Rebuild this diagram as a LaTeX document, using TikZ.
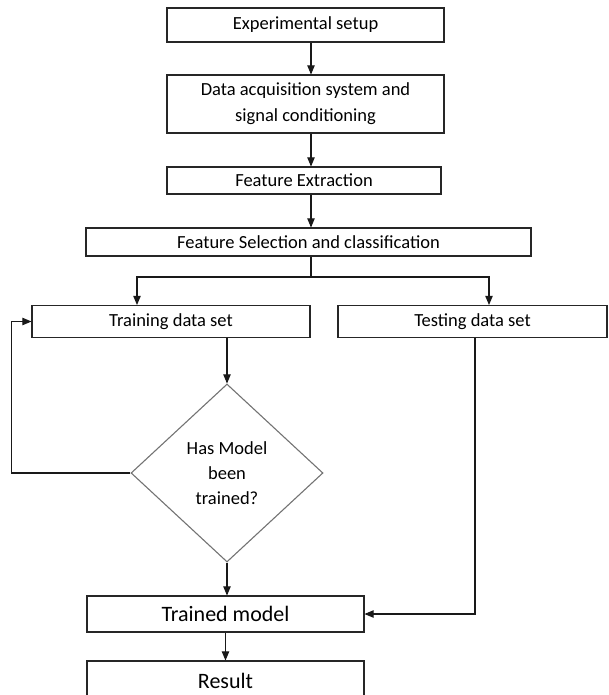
\documentclass[tikz,border=0pt]{standalone}
\usepackage{fontspec}
\setmainfont{Carlito}
\usepackage{tikz}
\usetikzlibrary{arrows}
\usetikzlibrary{shapes.geometric}

\begin{document}
\begin{tikzpicture}[x=1pt,y=-1pt,>=triangle 45,
	box/.style={rectangle,draw=black!85,line width=1.1pt,inner sep=0pt,align=center,font=\fontsize{18.5}{26}\selectfont},
	decision/.style={diamond,draw=black!55,line width=1.1pt,inner sep=0pt,align=center,minimum width=192pt,minimum height=178pt,font=\fontsize{18.5}{25}\selectfont},
	link/.style={draw=black!90,line width=1.1pt}]
\useasboundingbox (0,0) rectangle (608,695);

	% main column
	\node[box,minimum width=277pt,minimum height=34pt] (setup) at (305.5,25) {Experimental setup};
	\node[box,minimum width=277pt,minimum height=58pt] (daq) at (305.5,104) {Data acquisition system and\\signal conditioning};
	\node[box,minimum width=274pt,minimum height=27pt] (extract) at (304,180.5) {Feature Extraction};
	\node[box,minimum width=445pt,minimum height=28pt] (select) at (308.5,242) {Feature Selection and classification};
	
	% two branches
	\node[box,minimum width=278pt,minimum height=32pt] (train) at (171,321.5) {Training data set};
	\node[box,minimum width=269pt,minimum height=32pt] (test) at (472.5,321.5) {Testing data set};
	\node[decision] (check) at (227,473) {Has Model\\been\\trained?};
	
	\node[box,minimum width=277pt,minimum height=36pt,font=\fontsize{22}{24}\selectfont] (model) at (225.5,614) {Trained model};
	\node[box,minimum width=277pt,minimum height=40pt,font=\fontsize{22}{24}\selectfont] (result) at (225.5,681) {Result};
	
	\coordinate (spine) at (311,0);
	\coordinate (fork) at (311,277);
	
	\draw[->,link] (setup.south -| spine) -- (daq.north -| spine);
	\draw[->,link] (daq.south -| spine) -- (extract.north -| spine);
	\draw[->,link] (extract.south -| spine) -- (select.north -| spine);
	\draw[link] (select.south -| fork) -- (fork);
	\draw[->,link] (fork) -| ([xshift=-34pt]train.north);
	\draw[->,link] (fork) -| ([xshift=16.5pt]test.north);
	
	\draw[->,link] (train.south -| check) -- (check.north);
	\draw[->,link] (check.west) -- ++(-119,0) |- (train.west);
	\draw[->,link] (check.south) -- (check.south |- model.north);
	\draw[->,link] ([xshift=2.5pt]test.south) |- (model.east);
	\draw[->,link] (model.south) -- (result.north);
\end{tikzpicture}
\end{document}
